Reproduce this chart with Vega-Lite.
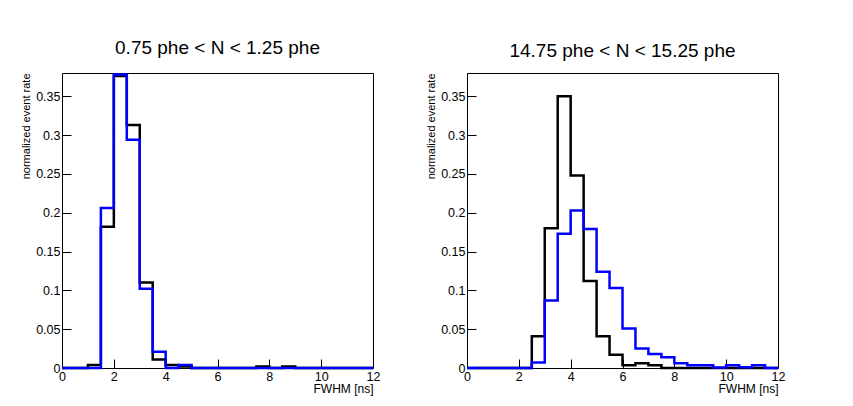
{
  "$schema": "https://vega.github.io/schema/vega-lite/v6.json",
  "background": "white",
  "padding": {"left": 20, "top": 38, "right": 60, "bottom": 10},
  "bounds": "flush",
  "spacing": 94,
  "config": {
    "font": "Liberation Sans",
    "view": {"stroke": "black", "strokeWidth": 1},
    "axis": {
      "domain": false,
      "grid": false,
      "tickColor": "black",
      "tickWidth": 1,
      "labelColor": "black",
      "labelFont": "Liberation Sans",
      "labelFontSize": 12.5,
      "labelFlush": false,
      "labelOverlap": false,
      "titleFont": "Liberation Sans",
      "titleFontSize": 11,
      "titleFontWeight": "normal",
      "titleColor": "black",
      "titleAnchor": "end"
    },
    "axisX": {
      "values": [0, 0.5, 1, 1.5, 2, 2.5, 3, 3.5, 4, 4.5, 5, 5.5, 6, 6.5, 7, 7.5, 8, 8.5, 9, 9.5, 10, 10.5, 11, 11.5, 12],
      "labelExpr": "datum.value % 2 == 0 ? format(datum.value, 'd') : ''",
      "tickSize": {"condition": {"test": "datum.value % 2 == 0", "value": -9}, "value": -4.5},
      "labelPadding": 11,
      "titleFontSize": 12,
      "titlePadding": 1
    },
    "axisY": {
      "values": [0, 0.01, 0.02, 0.03, 0.04, 0.05, 0.06, 0.07, 0.08, 0.09, 0.1, 0.11, 0.12, 0.13, 0.14, 0.15, 0.16, 0.17, 0.18, 0.19, 0.2, 0.21, 0.22, 0.23, 0.24, 0.25, 0.26, 0.27, 0.28, 0.29, 0.3, 0.31, 0.32, 0.33, 0.34, 0.35, 0.36, 0.37, 0.38],
      "labelExpr": "round(datum.value * 100) % 5 == 0 ? format(datum.value, '~g') : ''",
      "tickSize": {"condition": {"test": "round(datum.value * 100) % 5 == 0", "value": -9}, "value": -5},
      "labelPadding": 11,
      "titlePadding": 4
    }
  },
  "data": {
    "values": [
      {"panel": "low", "series": "A", "fwhm": 0, "rate": 0},
      {"panel": "low", "series": "A", "fwhm": 0.5, "rate": 0},
      {"panel": "low", "series": "A", "fwhm": 1, "rate": 0.004},
      {"panel": "low", "series": "A", "fwhm": 1.5, "rate": 0.182},
      {"panel": "low", "series": "A", "fwhm": 2, "rate": 0.376},
      {"panel": "low", "series": "A", "fwhm": 2.5, "rate": 0.313},
      {"panel": "low", "series": "A", "fwhm": 3, "rate": 0.11},
      {"panel": "low", "series": "A", "fwhm": 3.5, "rate": 0.011},
      {"panel": "low", "series": "A", "fwhm": 4, "rate": 0.004},
      {"panel": "low", "series": "A", "fwhm": 4.5, "rate": 0.002},
      {"panel": "low", "series": "A", "fwhm": 5, "rate": 0},
      {"panel": "low", "series": "A", "fwhm": 5.5, "rate": 0},
      {"panel": "low", "series": "A", "fwhm": 6, "rate": 0},
      {"panel": "low", "series": "A", "fwhm": 6.5, "rate": 0},
      {"panel": "low", "series": "A", "fwhm": 7, "rate": 0},
      {"panel": "low", "series": "A", "fwhm": 7.5, "rate": 0.002},
      {"panel": "low", "series": "A", "fwhm": 8, "rate": 0},
      {"panel": "low", "series": "A", "fwhm": 8.5, "rate": 0.002},
      {"panel": "low", "series": "A", "fwhm": 9, "rate": 0},
      {"panel": "low", "series": "A", "fwhm": 9.5, "rate": 0},
      {"panel": "low", "series": "A", "fwhm": 10, "rate": 0},
      {"panel": "low", "series": "A", "fwhm": 10.5, "rate": 0},
      {"panel": "low", "series": "A", "fwhm": 11, "rate": 0},
      {"panel": "low", "series": "A", "fwhm": 11.5, "rate": 0},
      {"panel": "low", "series": "A", "fwhm": 12, "rate": 0},
      {"panel": "low", "series": "B", "fwhm": 0, "rate": 0},
      {"panel": "low", "series": "B", "fwhm": 0.5, "rate": 0},
      {"panel": "low", "series": "B", "fwhm": 1, "rate": 0},
      {"panel": "low", "series": "B", "fwhm": 1.5, "rate": 0.206},
      {"panel": "low", "series": "B", "fwhm": 2, "rate": 0.378},
      {"panel": "low", "series": "B", "fwhm": 2.5, "rate": 0.294},
      {"panel": "low", "series": "B", "fwhm": 3, "rate": 0.102},
      {"panel": "low", "series": "B", "fwhm": 3.5, "rate": 0.021},
      {"panel": "low", "series": "B", "fwhm": 4, "rate": 0},
      {"panel": "low", "series": "B", "fwhm": 4.5, "rate": 0.004},
      {"panel": "low", "series": "B", "fwhm": 5, "rate": 0},
      {"panel": "low", "series": "B", "fwhm": 5.5, "rate": 0},
      {"panel": "low", "series": "B", "fwhm": 6, "rate": 0},
      {"panel": "low", "series": "B", "fwhm": 6.5, "rate": 0},
      {"panel": "low", "series": "B", "fwhm": 7, "rate": 0},
      {"panel": "low", "series": "B", "fwhm": 7.5, "rate": 0},
      {"panel": "low", "series": "B", "fwhm": 8, "rate": 0},
      {"panel": "low", "series": "B", "fwhm": 8.5, "rate": 0},
      {"panel": "low", "series": "B", "fwhm": 9, "rate": 0},
      {"panel": "low", "series": "B", "fwhm": 9.5, "rate": 0},
      {"panel": "low", "series": "B", "fwhm": 10, "rate": 0},
      {"panel": "low", "series": "B", "fwhm": 10.5, "rate": 0},
      {"panel": "low", "series": "B", "fwhm": 11, "rate": 0},
      {"panel": "low", "series": "B", "fwhm": 11.5, "rate": 0},
      {"panel": "low", "series": "B", "fwhm": 12, "rate": 0},
      {"panel": "high", "series": "A", "fwhm": 0, "rate": 0},
      {"panel": "high", "series": "A", "fwhm": 0.5, "rate": 0},
      {"panel": "high", "series": "A", "fwhm": 1, "rate": 0},
      {"panel": "high", "series": "A", "fwhm": 1.5, "rate": 0},
      {"panel": "high", "series": "A", "fwhm": 2, "rate": 0},
      {"panel": "high", "series": "A", "fwhm": 2.5, "rate": 0.041},
      {"panel": "high", "series": "A", "fwhm": 3, "rate": 0.18},
      {"panel": "high", "series": "A", "fwhm": 3.5, "rate": 0.35},
      {"panel": "high", "series": "A", "fwhm": 4, "rate": 0.248},
      {"panel": "high", "series": "A", "fwhm": 4.5, "rate": 0.112},
      {"panel": "high", "series": "A", "fwhm": 5, "rate": 0.041},
      {"panel": "high", "series": "A", "fwhm": 5.5, "rate": 0.017},
      {"panel": "high", "series": "A", "fwhm": 6, "rate": 0.0035},
      {"panel": "high", "series": "A", "fwhm": 6.5, "rate": 0.006},
      {"panel": "high", "series": "A", "fwhm": 7, "rate": 0.0035},
      {"panel": "high", "series": "A", "fwhm": 7.5, "rate": 0},
      {"panel": "high", "series": "A", "fwhm": 8, "rate": 0},
      {"panel": "high", "series": "A", "fwhm": 8.5, "rate": 0},
      {"panel": "high", "series": "A", "fwhm": 9, "rate": 0},
      {"panel": "high", "series": "A", "fwhm": 9.5, "rate": 0},
      {"panel": "high", "series": "A", "fwhm": 10, "rate": 0},
      {"panel": "high", "series": "A", "fwhm": 10.5, "rate": 0},
      {"panel": "high", "series": "A", "fwhm": 11, "rate": 0},
      {"panel": "high", "series": "A", "fwhm": 11.5, "rate": 0},
      {"panel": "high", "series": "A", "fwhm": 12, "rate": 0},
      {"panel": "high", "series": "B", "fwhm": 0, "rate": 0},
      {"panel": "high", "series": "B", "fwhm": 0.5, "rate": 0},
      {"panel": "high", "series": "B", "fwhm": 1, "rate": 0},
      {"panel": "high", "series": "B", "fwhm": 1.5, "rate": 0},
      {"panel": "high", "series": "B", "fwhm": 2, "rate": 0},
      {"panel": "high", "series": "B", "fwhm": 2.5, "rate": 0.007},
      {"panel": "high", "series": "B", "fwhm": 3, "rate": 0.087},
      {"panel": "high", "series": "B", "fwhm": 3.5, "rate": 0.173},
      {"panel": "high", "series": "B", "fwhm": 4, "rate": 0.203},
      {"panel": "high", "series": "B", "fwhm": 4.5, "rate": 0.179},
      {"panel": "high", "series": "B", "fwhm": 5, "rate": 0.124},
      {"panel": "high", "series": "B", "fwhm": 5.5, "rate": 0.103},
      {"panel": "high", "series": "B", "fwhm": 6, "rate": 0.051},
      {"panel": "high", "series": "B", "fwhm": 6.5, "rate": 0.025},
      {"panel": "high", "series": "B", "fwhm": 7, "rate": 0.018},
      {"panel": "high", "series": "B", "fwhm": 7.5, "rate": 0.014},
      {"panel": "high", "series": "B", "fwhm": 8, "rate": 0.006},
      {"panel": "high", "series": "B", "fwhm": 8.5, "rate": 0.0035},
      {"panel": "high", "series": "B", "fwhm": 9, "rate": 0.0035},
      {"panel": "high", "series": "B", "fwhm": 9.5, "rate": 0.0007},
      {"panel": "high", "series": "B", "fwhm": 10, "rate": 0.0035},
      {"panel": "high", "series": "B", "fwhm": 10.5, "rate": 0.001},
      {"panel": "high", "series": "B", "fwhm": 11, "rate": 0.0035},
      {"panel": "high", "series": "B", "fwhm": 11.5, "rate": 0},
      {"panel": "high", "series": "B", "fwhm": 12, "rate": 0}
    ]
  },
  "hconcat": [
    {
      "width": 311,
      "height": 295,
      "title": {"text": "0.75 phe < N < 1.25 phe", "font": "Liberation Sans", "fontSize": 19, "fontWeight": "normal", "color": "black", "offset": 12},
      "transform": [{"filter": "datum.panel == 'low'"}],
      "mark": {"type": "line", "interpolate": "step-after", "strokeWidth": 2.5},
      "encoding": {
        "x": {"field": "fwhm", "type": "quantitative", "title": "FWHM [ns]", "scale": {"domain": [0, 12], "nice": false}},
        "y": {"field": "rate", "type": "quantitative", "title": "normalized event rate", "scale": {"domain": [0, 0.38], "nice": false}},
        "color": {"field": "series", "type": "nominal", "scale": {"domain": ["A", "B"], "range": ["#000000", "#0000ff"]}, "legend": null}
      }
    },
    {
      "width": 311,
      "height": 295,
      "title": {"text": "14.75 phe < N < 15.25 phe", "font": "Liberation Sans", "fontSize": 19, "fontWeight": "normal", "color": "black", "offset": 12},
      "transform": [{"filter": "datum.panel == 'high'"}],
      "mark": {"type": "line", "interpolate": "step-after", "strokeWidth": 2.5},
      "encoding": {
        "x": {"field": "fwhm", "type": "quantitative", "title": "FWHM [ns]", "scale": {"domain": [0, 12], "nice": false}},
        "y": {"field": "rate", "type": "quantitative", "title": "normalized event rate", "scale": {"domain": [0, 0.38], "nice": false}},
        "color": {"field": "series", "type": "nominal", "scale": {"domain": ["A", "B"], "range": ["#000000", "#0000ff"]}, "legend": null}
      }
    }
  ]
}
